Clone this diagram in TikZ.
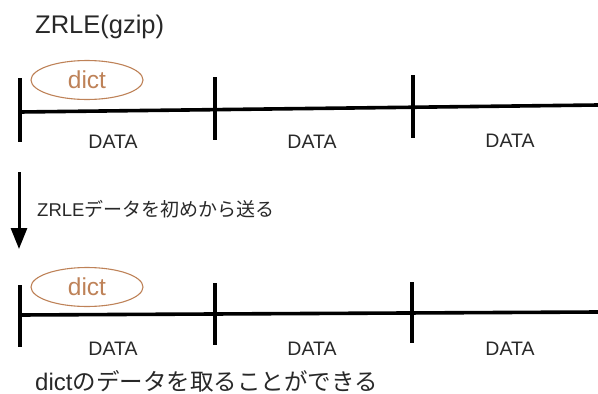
\documentclass[tikz,border=0pt]{standalone}
\usepackage{fontspec}
\setmainfont{Liberation Sans}
\newfontfamily\jp{Noto Sans CJK JP}
\usetikzlibrary{arrows.meta,shapes.geometric}
\definecolor{dictc}{RGB}{190,130,88}
\definecolor{txt}{RGB}{40,40,40}
\begin{document}
\begin{tikzpicture}[x=1pt,y=-1pt,
  bar/.style={line width=3.6pt,black},
  tick/.style={line width=3.6pt,black},
  dictbox/.style={draw=dictc,line width=1.1pt,ellipse,minimum width=112pt,minimum height=39pt,inner sep=0pt,text=dictc,font=\fontsize{24.5}{24.5}\selectfont},
  datalbl/.style={text=txt,font=\fontsize{19.5}{19.5}\selectfont,inner sep=0pt,anchor=base},
  note/.style={text=txt,inner sep=0pt,anchor=base west}]
\useasboundingbox (0,0) rectangle (598,394);
% title
\node[note,font=\fontsize{25.5}{25.5}\selectfont] (title) at (35,33) {ZRLE(gzip)};
% top row
\coordinate (t0) at (20,112);
\coordinate (t3) at (598,105);
\draw[bar] (t0) -- (t3);
\coordinate (ta1) at (20,78); \coordinate (tb1) at (20,142);
\coordinate (ta2) at (215,77); \coordinate (tb2) at (215,140);
\coordinate (ta3) at (413,75); \coordinate (tb3) at (413,138);
\draw[tick] (ta1) -- (tb1);
\draw[tick] (ta2) -- (tb2);
\draw[tick] (ta3) -- (tb3);
\node[dictbox] (d1) at (87,80) {dict};
\node[datalbl] (td1) at (113,148) {DATA};
\node[datalbl] (td2) at (312,148) {DATA};
\node[datalbl] (td3) at (510,147) {DATA};
% arrow
\coordinate (aS) at (19,172);
\coordinate (aE) at (19,249);
\draw[line width=3pt,-{Triangle[width=16pt,length=21pt]}] (aS) -- (aE);
\node[note] (send) at (37,216) {\fontsize{18.5}{18.5}\selectfont ZRLE\jp\fontsize{19}{19}\selectfont データを初めから送る};
% bottom row
\coordinate (b0) at (20,315);
\coordinate (b3) at (598,312);
\draw[bar] (b0) -- (b3);
\coordinate (ba1) at (20,285); \coordinate (bb1) at (20,347);
\coordinate (ba2) at (215,283); \coordinate (bb2) at (215,345);
\coordinate (ba3) at (412,282); \coordinate (bb3) at (412,343);
\draw[tick] (ba1) -- (bb1);
\draw[tick] (ba2) -- (bb2);
\draw[tick] (ba3) -- (bb3);
\node[dictbox] (d2) at (87,287) {dict};
\node[datalbl] (bd1) at (113,355) {DATA};
\node[datalbl] (bd2) at (312,355) {DATA};
\node[datalbl] (bd3) at (510,355) {DATA};
\node[note] (can) at (35,390) {\fontsize{24}{24}\selectfont dict\jp\fontsize{23.5}{23.5}\selectfont のデータを取ることができる};
\end{tikzpicture}
\end{document}
